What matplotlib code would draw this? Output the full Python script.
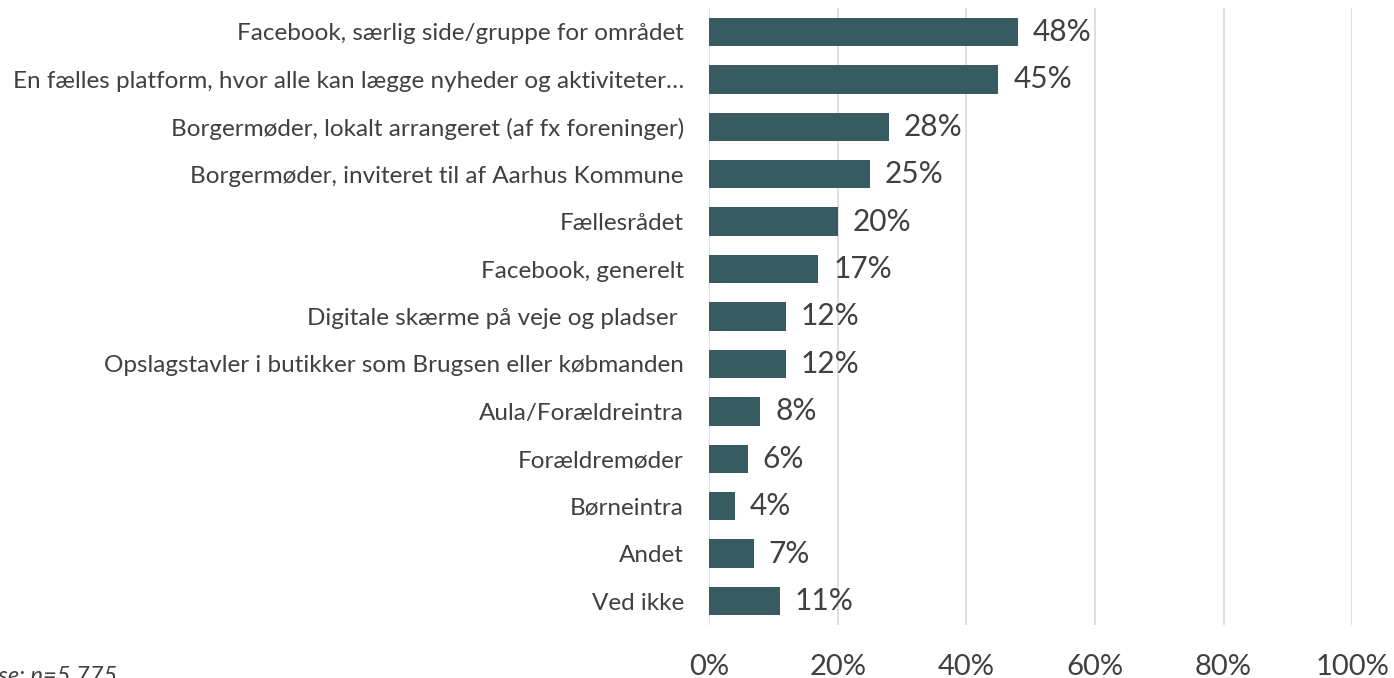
import matplotlib.pyplot as plt
from matplotlib.ticker import PercentFormatter

plt.rcParams['font.family'] = ['Lato', 'DejaVu Sans']

kategorier = [
    'Facebook, særlig side/gruppe for området',
    'En fælles platform, hvor alle kan lægge nyheder og aktiviteter…',
    'Borgermøder, lokalt arrangeret (af fx foreninger)',
    'Borgermøder, inviteret til af Aarhus Kommune',
    'Fællesrådet',
    'Facebook, generelt',
    'Digitale skærme på veje og pladser ',
    'Opslagstavler i butikker som Brugsen eller købmanden',
    'Aula/Forældreintra',
    'Forældremøder',
    'Børneintra',
    'Andet',
    'Ved ikke',
]
andele = [48, 45, 28, 25, 20, 17, 12, 12, 8, 6, 4, 7, 11]
x_ticks = [0, 20, 40, 60, 80, 100]

farve = '#375b61'
tekst = '#404040'

fig = plt.figure(figsize=(13.94, 6.78), dpi=100)
ax = fig.add_axes([0.5086, 0.0786, 0.4614, 0.9092])

pos = list(range(len(kategorier)))
ax.barh(pos, andele, height=0.6, color=farve, zorder=3)
ax.set_ylim(len(kategorier) - 0.5, -0.5)
ax.set_xlim(0, 100)

# procent-labels til højre for søjlerne
for p, v in zip(pos, andele):
    ax.text(v + 2.3, p, f'{v}%', va='center', ha='left', fontsize=21.5, color=tekst)

ax.set_yticks(pos)
ax.set_yticklabels(kategorier, fontsize=17.5, color=tekst)
ax.set_xticks(x_ticks)
ax.xaxis.set_major_formatter(PercentFormatter(decimals=0))
ax.tick_params(axis='x', labelsize=21, labelcolor=tekst, length=0, pad=21)
ax.tick_params(axis='y', length=0, pad=18)
ax.grid(axis='x', color='#d9d9d9', linewidth=1.2, zorder=0)
for s in ax.spines.values():
    s.set_visible(False)

fig.text(117 / 1394, 0.018, 'Base: n=5.775', ha='right', va='top',
         fontsize=17, style='italic', color=tekst)

fig.savefig('out.png', dpi=100)
